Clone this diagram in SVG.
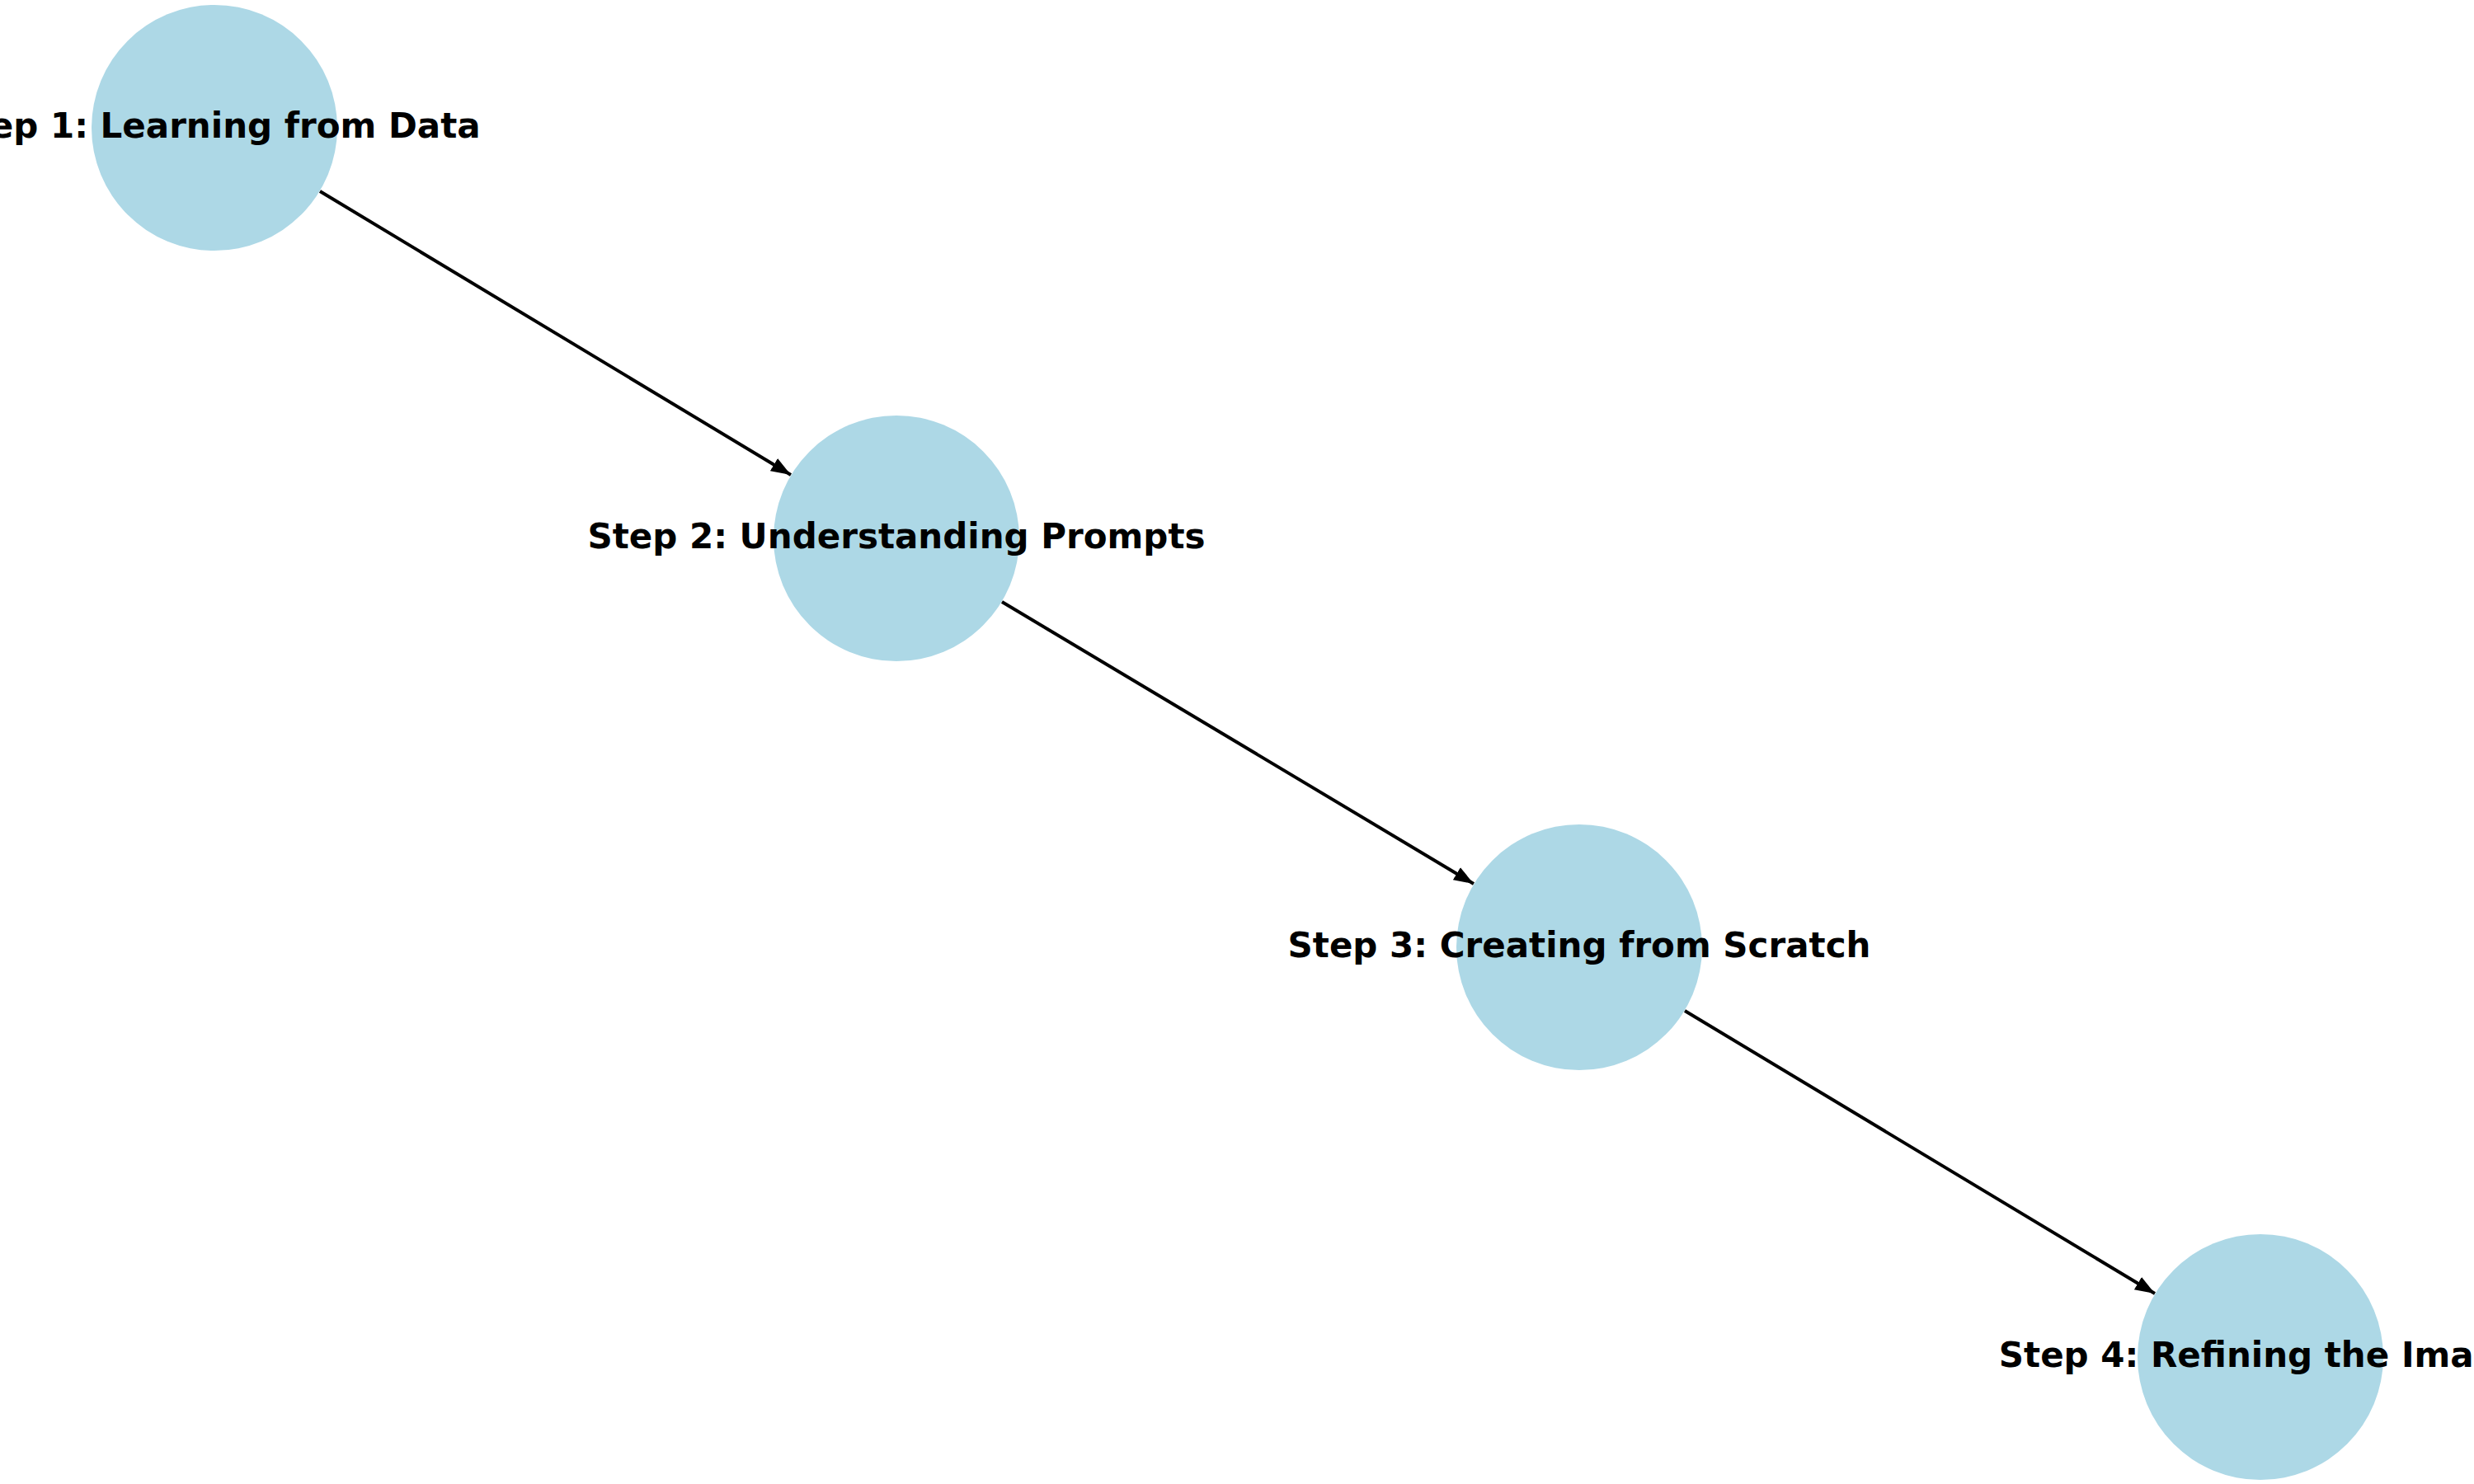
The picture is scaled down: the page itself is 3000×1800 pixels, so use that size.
<svg xmlns="http://www.w3.org/2000/svg" width="3000" height="1800" viewBox="0 0 3000 1800">
<style>
.n{fill:#add8e6}
.t{font-family:"DejaVu Sans",sans-serif;font-weight:bold;font-size:42px;fill:#000;text-anchor:middle;dominant-baseline:central}
.e{stroke:#000;stroke-width:4;fill:none;marker-end:url(#a)}
</style>
<defs><marker id="a" markerWidth="6" markerHeight="4.4" refX="6" refY="2.2" orient="auto" markerUnits="strokeWidth"><path d="M0,0 L6,2.2 L0,4.4 Z" fill="#000"/></marker></defs>
<rect width="3000" height="1800" fill="#fff"/>
<g id="edges">
<line class="e" x1="388" y1="232" x2="959" y2="576"/>
<line class="e" x1="1215" y1="730" x2="1787" y2="1072"/>
<line class="e" x1="2043" y1="1226" x2="2613" y2="1569"/>
</g>
<g id="n1"><circle class="n" cx="260" cy="155" r="149"/><text class="t" x="260" y="152">Step 1: Learning from Data</text></g>
<g id="n2"><circle class="n" cx="1087" cy="653" r="149"/><text class="t" x="1087" y="650">Step 2: Understanding Prompts</text></g>
<g id="n3"><circle class="n" cx="1915" cy="1149" r="149"/><text class="t" x="1915" y="1146">Step 3: Creating from Scratch</text></g>
<g id="n4"><circle class="n" cx="2741" cy="1646" r="149"/><text class="t" x="2741" y="1643">Step 4: Refining the Image</text></g>
</svg>
